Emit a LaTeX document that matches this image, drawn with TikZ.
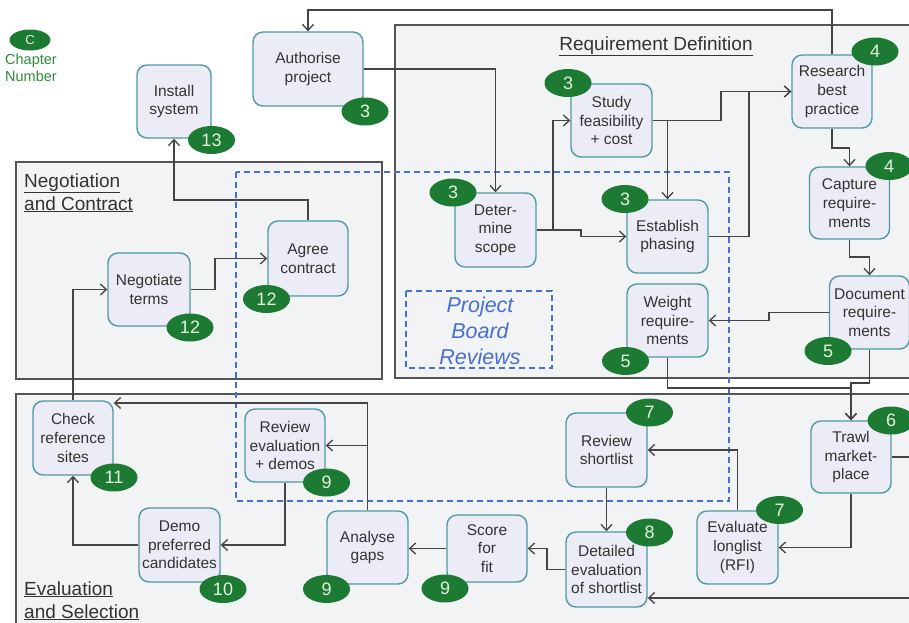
\documentclass[tikz,border=0pt]{standalone}
\usepackage{fontspec}
\setmainfont{Liberation Sans}
\usetikzlibrary{shapes.geometric,arrows.meta}
\definecolor{nodefill}{HTML}{ECECF6}
\definecolor{nodeline}{HTML}{4E9AA0}
\definecolor{badgefill}{HTML}{1C7A33}
\definecolor{badgetext}{HTML}{E6F4DC}
\definecolor{grpfill}{HTML}{F2F3F5}
\definecolor{grpline}{HTML}{555555}
\definecolor{conn}{HTML}{444444}
\definecolor{pbr}{HTML}{4A6FD2}
\definecolor{legendgreen}{HTML}{2E8A3C}
\begin{document}
\begin{tikzpicture}[x=1pt,y=-1pt,
  box/.style={draw=nodeline, fill=nodefill, line width=1.4pt, rounded corners=10pt,
    minimum width=81pt, minimum height=73pt, inner sep=1pt, align=center,
    font=\fontsize{15.5}{18.7}\selectfont, text=black!80},
  badge/.style={ellipse, fill=badgefill, minimum width=47pt, minimum height=28pt,
    inner sep=0pt, text=badgetext, font=\fontsize{18}{18}\selectfont},
  grp/.style={draw=grpline, fill=grpfill, line width=1.2pt},
  grptitle/.style={font=\fontsize{19}{23}\selectfont, text=black!80},
  pbrbox/.style={draw=pbr, line width=1.5pt, dash pattern=on 6pt off 4pt},
  arr/.style={draw=conn, line width=1.3pt, -{Straight Barb[length=6pt,width=11pt]}},
  ln/.style={draw=conn, line width=1.3pt}
]
\useasboundingbox (0,0) rectangle (909,622);
\clip (0,0) rectangle (909,622);
\fill[white] (0,0) rectangle (909,622);

% group containers
\draw[grp] (395,25) rectangle (930,378);
\draw[grp] (16,162) rectangle (382,379);
\draw[grp] (16,394) rectangle (930,640);

\node[grptitle, anchor=base] (tReq) at (656,50) {\underline{Requirement Definition}};
\node[grptitle, anchor=base west, inner sep=0pt] (tNeg1) at (24,187) {\underline{Negotiation}};
\node[grptitle, anchor=base west, inner sep=0pt] (tNeg2) at (24,210) {\underline{and Contract}};
\node[grptitle, anchor=base west, inner sep=0pt] (tEva1) at (24,595) {\underline{Evaluation}};
\node[grptitle, anchor=base west, inner sep=0pt] (tEva2) at (24,618) {\underline{and Selection}};

% project board reviews
\draw[pbrbox] (236,172) rectangle (729,501);
\draw[pbrbox] (406,291) rectangle (552,368);
\node[align=center, text=pbr, font=\fontsize{21.5}{26}\selectfont\itshape] (pbrlabel) at (480,331) {Project\\Board\\Reviews};

% legend
\node[ellipse, fill=badgefill, minimum width=41pt, minimum height=21pt, inner sep=0pt,
  text=badgetext, font=\fontsize{13}{13}\selectfont] (legC) at (30,40) {C};
\node[align=center, text=legendgreen, font=\fontsize{14.5}{17}\selectfont] (legT) at (31,68) {Chapter\\Number};

% nodes
\node[box, minimum width=74pt] (inst) at (174,101.5) {Install\\system};
\node[box, minimum width=110pt, minimum height=74pt] (auth) at (308,69) {Authorise\\project};
\node[box] (study) at (611.5,120.5) {Study\\feasibility\\+ cost};
\node[box, minimum width=80pt] (res) at (832,91.5) {Research\\best\\practice};
\node[box, minimum width=80pt, minimum height=72pt] (cap) at (849.5,203) {Capture\\require-\\ments};
\node[box, minimum height=74pt] (det) at (495.5,230) {Deter-\\mine\\scope};
\node[box] (est) at (667.5,236.5) {Establish\\phasing};
\node[box] (wgt) at (667.5,320.5) {Weight\\require-\\ments};
\node[box, minimum width=80pt] (doc) at (869.5,312.5) {Document\\require-\\ments};
\node[box, minimum width=82pt] (neg) at (149,289.5) {Negotiate\\terms};
\node[box, minimum width=80pt, minimum height=75pt] (agr) at (308,258.5) {Agree\\contract};
\node[box, minimum width=80pt, minimum height=74pt] (chk) at (73,438) {Check\\reference\\sites};
\node[box, minimum width=80pt] (rev) at (285,445.5) {Review\\evaluation\\+ demos};
\node[box, minimum height=74pt] (demo) at (179.5,545) {Demo\\preferred\\candidates};
\node[box] (ana) at (367.5,547.5) {Analyse\\gaps};
\node[box, minimum width=80pt, minimum height=67pt] (score) at (487,548.5) {Score\\for\\fit};
\node[box, minimum height=75pt] (dtl) at (606.5,569.5) {Detailed\\evaluation\\of shortlist};
\node[box, minimum height=74pt] (rsl) at (606.5,450) {Review\\shortlist};
\node[box] (evl) at (737.5,547.5) {Evaluate\\longlist\\(RFI)};
\node[box, minimum width=80pt, minimum height=72pt] (trawl) at (851,457) {Trawl\\market-\\place};

% connectors
\draw[arr] (auth.east) -| (det.north);
\draw[arr] (res.north) |- (auth.north |- 0,10) -- (auth.north);
\draw[arr] (det.east) -- (553,230) |- (study.west);
\draw[arr] (det.east) -- (581,230) |- (est.west);
\draw[arr] (study.east) -| (est.north);
\draw[arr] (study.east) -| (721,91.5) -- (res.west);
\draw[arr] (est.east) -| (749,91.5) -- (res.west);
\draw[arr] (res.south) -- (832,148) -| (cap.north);
\draw[arr] (cap.south) -- (849.5,257) -| (doc.north);
\draw[arr] (doc.west) -| (769,320.5) -- (wgt.east);
\draw[arr] (doc.south) -- (869.5,383) -| (trawl.north);
\draw[arr] (wgt.south) -- (667.5,388) -| (trawl.north);
\draw[arr] (trawl.south) |- (evl.east);
\draw[arr] (trawl.east) -- (915,457) -- (915,598) -- (dtl.east |- 0,598);
\draw[arr] (evl.north) |- (rsl.east);
\draw[arr] (rsl.south) -- (dtl.north);
\draw[arr] (dtl.west) -- (547,569.5) |- (score.east);
\draw[arr] (score.west) -- (ana.east |- score.west);
\draw[arr] (ana.north) |- (rev.east);
\draw[arr] (ana.north) |- (chk.east |- 0,403);
\draw[arr] (rev.south) |- (demo.east);
\draw[arr] (demo.west) -| (chk.south);
\draw[arr] (chk.north) |- (neg.west);
\draw[arr] (neg.east) -| (215,258.5) -- (agr.west);
\draw[arr] (agr.north) -- (308,200) -| (inst.south);

% chapter badges
\node[badge] (b13) at (211.5,140) {13};
\node[badge] (bauth) at (365,111.5) {3};
\node[badge] (bstudy) at (568,83) {3};
\node[badge] (bres) at (875,51.5) {4};
\node[badge] (bcap) at (889,166) {4};
\node[badge] (bdet) at (453,192.5) {3};
\node[badge] (best) at (625,199) {3};
\node[badge] (bwgt) at (625.5,361) {5};
\node[badge] (bdoc) at (828,351) {5};
\node[badge] (bneg) at (190,327.5) {12};
\node[badge] (bagr) at (266.5,299) {12};
\node[badge] (bchk) at (114,477.5) {11};
\node[badge] (brev) at (326.5,482.5) {9};
\node[badge] (bdemo) at (223,589) {10};
\node[badge] (bana) at (326.5,589) {9};
\node[badge] (bscore) at (445,588.5) {9};
\node[badge] (bdtl) at (649.5,532.5) {8};
\node[badge] (brsl) at (649.5,412.5) {7};
\node[badge] (bevl) at (779.5,510) {7};
\node[badge] (btrawl) at (891,420.5) {6};
\end{tikzpicture}
\end{document}
